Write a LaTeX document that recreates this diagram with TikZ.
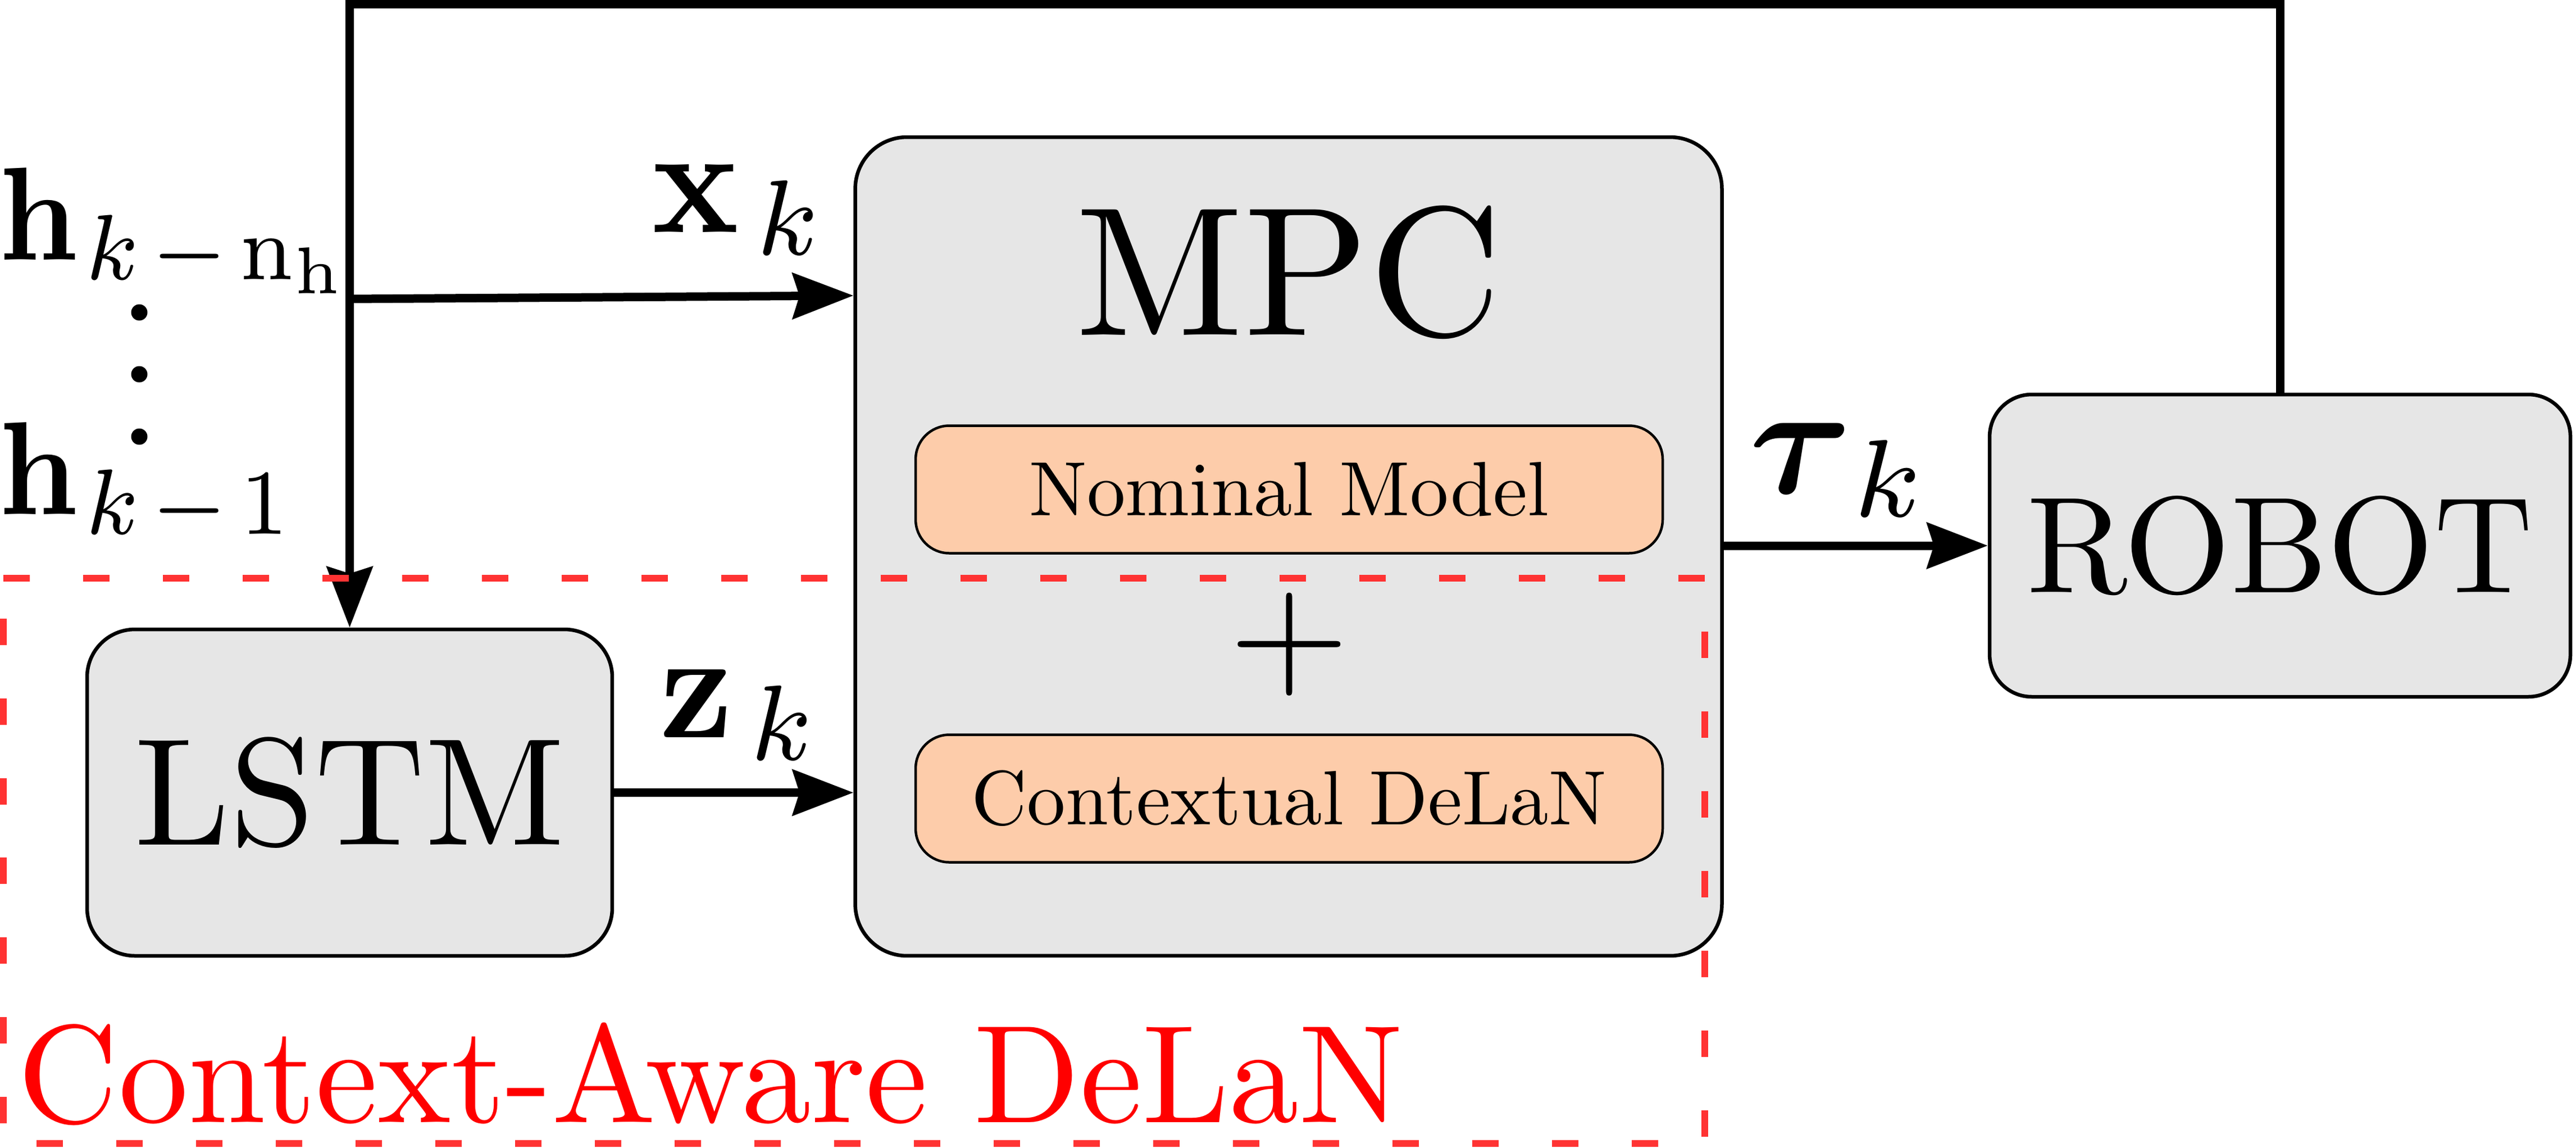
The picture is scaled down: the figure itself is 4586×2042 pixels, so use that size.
\documentclass[tikz,border=0pt]{standalone}
\usepackage{bm}
\usetikzlibrary{arrows.meta}
\definecolor{boxgray}{HTML}{E6E6E6}
\definecolor{peach}{RGB}{253,204,170}
\definecolor{dashred}{HTML}{FF3333}
\tikzset{
  blk/.style={draw=black, line width=0.65pt, fill=boxgray, inner sep=0pt},
  subbox/.style={draw=black, line width=0.45pt, fill=peach, inner sep=0pt,
    rounded corners=6pt, minimum width=133pt, minimum height=22.7pt},
  conn/.style={line width=1.5pt, -{Stealth[length=10.8pt,width=8.1pt,inset=1.2pt]}},
  lbl/.style={inner sep=0pt, anchor=base west},
  groupbox/.style={draw=dashred, line width=1.2pt, dash pattern=on 4.7pt off 9.5pt},
}
\begin{document}
\begin{tikzpicture}[x=0.1pt,y=-0.1pt]
\useasboundingbox (0,0) rectangle (4586,2042);
% blocks
\node[blk, rounded corners=9.2pt, minimum width=154.3pt, minimum height=145.7pt] (MPC) at (2294,972.5) {};
\node[inner sep=0pt, anchor=base] (mpct) at (2294,596) {\scalebox{3.27}{MPC}};
\node[subbox] (nom) at (2295,871) {\scalebox{1.37}{Nominal Model}};
\node[inner sep=0pt] (plus) at (2295,1147) {\scalebox{2.75}{$+$}};
\node[subbox] (cdl) at (2295,1421) {\scalebox{1.37}{Contextual DeLaN}};
\node[blk, rounded corners=8.5pt, minimum width=93.5pt, minimum height=58.1pt] (LSTM) at (622.5,1410.5) {\scalebox{2.72}{LSTM}};
\node[blk, rounded corners=7.5pt, minimum width=103.4pt, minimum height=53.8pt] (ROBOT) at (4059,971) {\scalebox{2.44}{ROBOT}};
% connectors
\draw[conn] (ROBOT.north) -- (ROBOT.north |- 0,7.5) -- (LSTM.north |- 0,7.5) -- (LSTM.north);
\coordinate (xs) at (LSTM.north |- 0,532);
\draw[conn] (xs) -- (MPC.west |- 0,526);
\draw[conn] (LSTM.east) -- (LSTM.east -| MPC.west);
\draw[conn] (MPC.east |- ROBOT.west) -- (ROBOT.west);
% labels
\node[lbl] (xk) at (1158,413) {\scalebox{2.57}[2.72]{$\mathbf{x}_{\mskip2.5mu k}$}};
\node[lbl] (zk) at (1172,1312) {\scalebox{2.57}[2.72]{$\mathbf{z}_{\mskip2.5mu k}$}};
\node[lbl] (tk) at (3112,877) {\scalebox{2.8}{$\bm{\tau}_{\mskip3mu k}$}};
\node[lbl] (h1) at (-4,462) {\scalebox{2.2}[2.36]{$\mathbf{h}_{\mskip1.3mu k\mskip2mu-\mskip2mu\mathrm{n}_\mathrm{h}}$}};
\node[lbl] (h2) at (-4,915) {\scalebox{2.2}[2.36]{$\mathbf{h}_{\mskip1.3mu k\mskip2mu-\mskip2mu1}$}};
\fill (248,556) circle[radius=1.45pt];
\fill (248,666) circle[radius=1.45pt];
\fill (248,777) circle[radius=1.45pt];
% context-aware group
\draw[groupbox] (6,1029) -- (3035,1029) -- (3035,2035) -- (6,2035) -- cycle;
\node[lbl, text=red] (grplbl) at (30,1997) {\scalebox{2.48}{Context-Aware DeLaN}};
\end{tikzpicture}
\end{document}
